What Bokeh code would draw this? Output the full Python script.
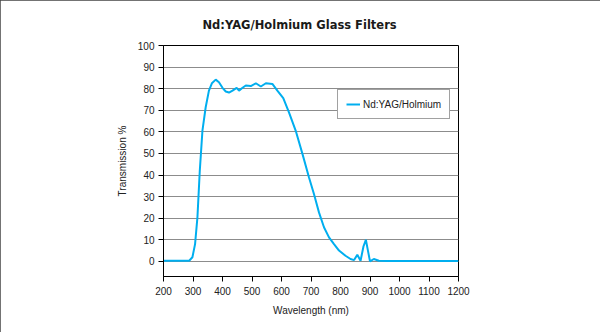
from bokeh.plotting import figure
from bokeh.models import Range1d, FixedTicker, Legend, LegendItem, Title
from bokeh.embed import file_html
from bokeh.resources import INLINE

# Data
wavelength = [200, 250, 287, 298, 307, 315, 323, 332, 343, 354, 364, 377, 388, 400,
              411, 422, 434, 448, 456, 468, 479, 496, 513, 530, 547, 569, 586, 606,
              625, 648, 671, 693, 710, 727, 744, 761, 778, 795, 817, 834, 846, 857,
              868, 878, 886, 893, 900, 913, 930, 960, 1000, 1100, 1200]
transmission = [0.3, 0.3, 0.3, 1.9, 8.0, 20.4, 42.0, 60.6, 71.4, 79.1, 82.5, 84.2, 83.0, 80.4,
                78.7, 78.2, 79.1, 80.4, 79.1, 80.4, 81.5, 81.2, 82.5, 81.0, 82.5, 82.2, 79.1, 75.6,
                69.1, 60.6, 49.8, 39.0, 31.2, 22.7, 15.8, 11.1, 8.0, 5.0, 2.6, 1.1, 0.6, 3.1,
                0.3, 7.0, 10.0, 5.0, 0.0, 1.1, 0.3, 0.2, 0.2, 0.2, 0.2]
series_name = "Nd:YAG/Holmium"
title_text = "Nd:YAG/Holmium Glass Filters"
x_ticks = [200, 300, 400, 500, 600, 700, 800, 900, 1000, 1100, 1200]
y_ticks = [0, 10, 20, 30, 40, 50, 60, 70, 80, 90, 100]

FONT = "Liberation Sans"

p = figure(width=600, height=332, output_backend="svg", toolbar_location=None,
           x_range=Range1d(200, 1200), y_range=Range1d(-7, 100),
           min_border_left=163, min_border_right=142, min_border_top=45, min_border_bottom=56,
           background_fill_color="white", border_fill_color="white")

# spacer (nearest the frame) then the real title above it
p.add_layout(Title(text=" ", text_font_size="7px", standoff=0), "above")
p.add_layout(Title(text=title_text, text_font="DejaVu Sans", text_font_size="11.5px",
                   text_font_style="bold", text_color="#1a1a1a",
                   align="left", offset=39), "above")

p.outline_line_color = "black"
p.outline_line_width = 1

p.xgrid.grid_line_color = None
p.ygrid.grid_line_color = "#8c8c8c"
p.ygrid.grid_line_width = 1
p.ygrid.ticker = FixedTicker(ticks=y_ticks)

for ax in (p.xaxis[0], p.yaxis[0]):
    ax.axis_line_color = "black"
    ax.major_tick_line_color = "black"
    ax.major_tick_in = 0
    ax.major_tick_out = 5
    ax.minor_tick_line_color = None
    ax.major_label_text_font = FONT
    ax.major_label_text_font_size = "10px"
    ax.major_label_text_color = "#222222"
    ax.axis_label_text_font = FONT
    ax.axis_label_text_font_size = "10px"
    ax.axis_label_text_font_style = "normal"
    ax.axis_label_text_color = "#222222"

p.xaxis.ticker = FixedTicker(ticks=x_ticks)
p.yaxis.ticker = FixedTicker(ticks=y_ticks)
p.xaxis.axis_label = "Wavelength (nm)"
p.yaxis.axis_label = "Transmission %"
p.xaxis.major_label_standoff = 5
p.yaxis.major_label_standoff = 4
p.xaxis.axis_label_standoff = 7
p.yaxis.axis_label_standoff = 7

r = p.line(wavelength, transmission, line_color="#00aeef", line_width=2)

legend = Legend(items=[LegendItem(label=series_name, renderers=[r])],
                location=(174, 157), padding=8, margin=0, spacing=0,
                glyph_width=14, glyph_height=12, label_height=12, label_standoff=3,
                label_text_font=FONT, label_text_font_size="10px", label_text_color="#222222",
                border_line_color="#444444", border_line_width=1.5,
                background_fill_color="white", background_fill_alpha=1)
p.add_layout(legend, "center")

p.styles = {"outline": "2px solid #444444", "outline-offset": "-2px"}

open("out.html", "w").write(file_html(p, INLINE))
